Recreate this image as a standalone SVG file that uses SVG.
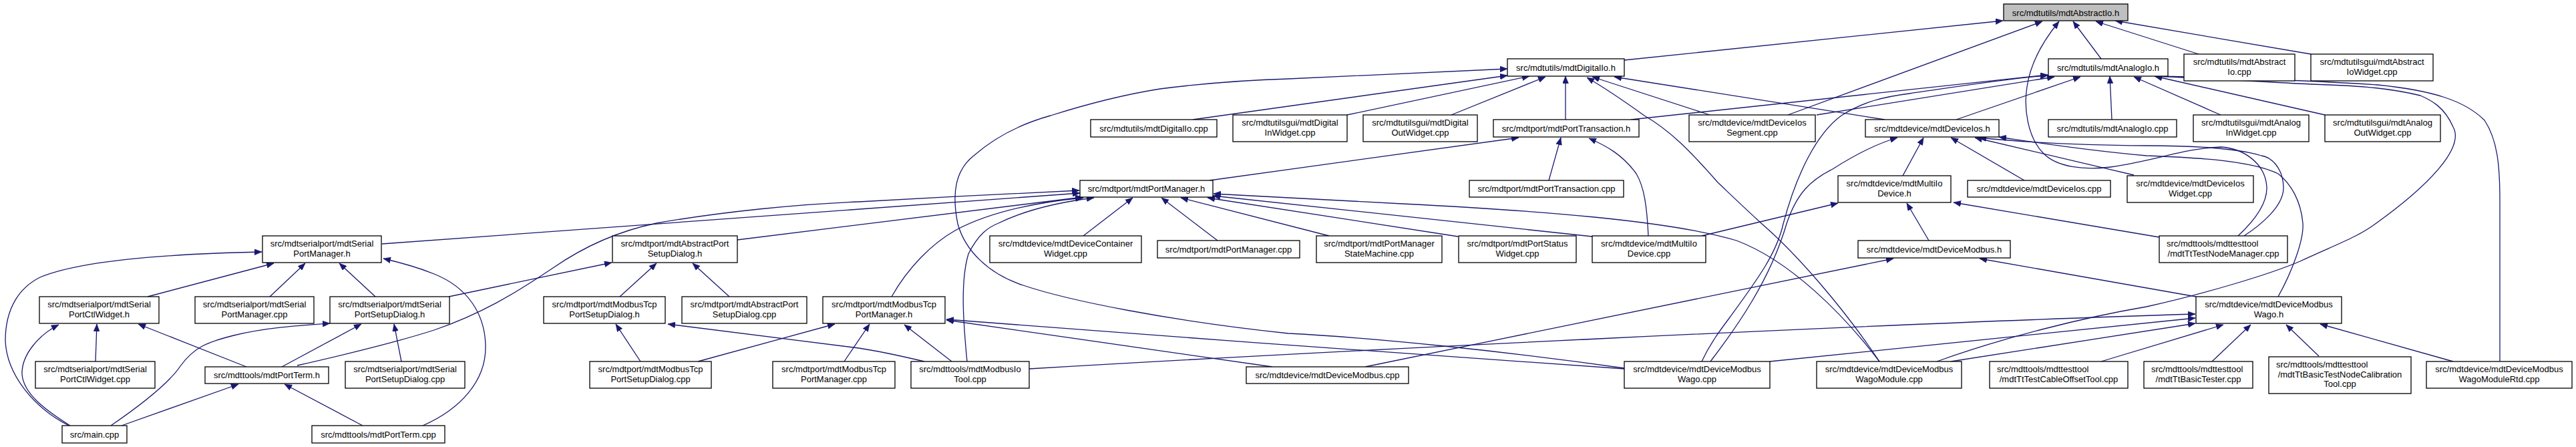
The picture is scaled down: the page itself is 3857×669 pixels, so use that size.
<svg xmlns="http://www.w3.org/2000/svg" width="3857" height="669" viewBox="0 0 3857 669">
<style>
.b{fill:#fff;stroke:#000;stroke-width:1.3}
.g{fill:#bfbfbf}
.t{font-family:"Liberation Sans",Arial,sans-serif;font-size:13px;fill:#000;text-anchor:middle}
.l{text-anchor:start}
.e path{fill:none;stroke:#191970;stroke-width:1.3;marker-end:url(#ah)}
</style>
<defs>
<marker id="ah" viewBox="0 0 11 9" refX="11" refY="4.5" markerWidth="11" markerHeight="9" markerUnits="userSpaceOnUse" orient="auto"><path d="M0,0 L11,4.5 L0,9 z" fill="#191970" stroke="#191970" stroke-width="0.5"/></marker>
</defs>
<rect x="0" y="0" width="3857" height="669" fill="#fff"/>
<g id="edges" class="e">
<path d="M2432,90 L2999,31"/>
<path d="M2677,172 L3058,32"/>
<path d="M3351,353 C3365,340 3395,310 3394,280 C3392,245 3360,222 3325,220 C3270,222 3230,240 3160,250 C3120,255 3080,250 3060,230 C3035,205 3030,160 3035,130 C3040,95 3060,60 3083,32"/>
<path d="M3146,88 L3104,32"/>
<path d="M3292,81 L3138,32"/>
<path d="M3460,81 L3167,31"/>
<path d="M1786,179 L2257,113"/>
<path d="M2432,551 C2250,525 2050,505 1929,499 C1750,480 1600,450 1532,427 C1480,410 1445,375 1434,335 C1425,290 1430,255 1458,233 C1490,205 1530,185 1573,173 C1630,155 1680,142 1737,133 C1800,125 1860,120 1929,118 C2050,112 2170,106 2257,103"/>
<path d="M2017,172 L2290,114"/>
<path d="M2173,172 L2314,115"/>
<path d="M2344,179 L2344,114"/>
<path d="M2814,541 C2760,460 2690,380 2638,335 C2600,300 2590,290 2572,273 C2530,225 2500,195 2462,173 C2430,150 2400,130 2376,116"/>
<path d="M2560,172 L2384,115"/>
<path d="M2822,179 L2417,115"/>
<path d="M2442,179 L3066,112"/>
<path d="M2548,541 C2560,515 2575,495 2590,475 C2630,420 2660,380 2670,335 C2690,260 2720,200 2757,173 C2790,152 2820,145 2859,140 C2930,130 3000,118 3066,113"/>
<path d="M2561,541 C2600,490 2650,420 2675,335 C2690,290 2710,270 2744,253 C2780,230 2810,215 2841,206"/>
<path d="M2720,172 L3076,115"/>
<path d="M2929,179 L3115,115"/>
<path d="M3162,179 L3159,114"/>
<path d="M3325,172 L3195,115"/>
<path d="M3481,172 L3226,114"/>
<path d="M2900,541 C3000,505 3120,475 3214,459 C3300,440 3400,410 3444,391 C3500,365 3530,355 3558,334 C3640,275 3690,220 3673,190 C3660,160 3640,150 3624,143 C3570,130 3520,128 3460,126 C3380,122 3300,117 3226,114"/>
<path d="M3743,541 L3743,300 C3743,250 3740,210 3720,180 C3690,150 3640,135 3560,127 C3450,120 3330,116 3226,114"/>
<path d="M1811,270 L2274,206"/>
<path d="M2319,270 L2337,206"/>
<path d="M2468,353 C2466,310 2462,280 2450,260 C2430,232 2405,218 2379,207"/>
<path d="M2849,263 L2880,206"/>
<path d="M3031,270 L2921,206"/>
<path d="M3195,262 L2957,206"/>
<path d="M3360,353 C3380,340 3420,310 3419,280 C3418,250 3400,235 3386,233 C3350,222 3290,218 3214,218 C3100,217 3020,212 2963,206"/>
<path d="M3411,444 C3430,410 3450,360 3448,334 C3445,300 3430,275 3411,260 C3370,240 3290,236 3214,233 C3120,225 3040,212 2993,205"/>
<path d="M2548,353 L2752,304"/>
<path d="M2888,360 L2855,304"/>
<path d="M3233,355 L2925,303"/>
<path d="M2044,549 L2835,387"/>
<path d="M3288,444 L2964,387"/>
<path d="M572,365 L1617,289"/>
<path d="M445,547 C520,530 600,510 650,494 C720,470 770,440 828,401 C880,365 930,345 983,334 C1080,317 1200,305 1286,302 C1400,296 1500,290 1616,285"/>
<path d="M1104,359 L1621,295"/>
<path d="M1335,444 C1360,400 1395,365 1430,345 C1480,318 1550,303 1622,296"/>
<path d="M1448,541 C1442,480 1438,420 1450,380 C1465,350 1480,340 1495,334 C1540,312 1590,302 1638,296"/>
<path d="M1622,353 L1696,296"/>
<path d="M1823,360 L1739,296"/>
<path d="M1990,353 L1768,296"/>
<path d="M2183,354 L1808,296"/>
<path d="M2384,354 L1816,293"/>
<path d="M2814,541 C2760,470 2680,390 2600,360 C2500,330 2300,315 2100,305 C1980,299 1880,293 1817,290"/>
<path d="M1264,541 L1302,485"/>
<path d="M1045,541 L1250,485"/>
<path d="M1425,541 L1354,486"/>
<path d="M1905,549 L1417,479"/>
<path d="M2432,552 C2200,537 1700,500 1417,478"/>
<path d="M959,541 L922,485"/>
<path d="M1384,541 C1350,533 1320,526 1286,521 L1000,485"/>
<path d="M928,444 L983,394"/>
<path d="M1092,444 L1037,394"/>
<path d="M672,444 L916,393"/>
<path d="M103,637 C50,610 10,560 8,510 C8,460 30,430 60,415 C120,390 250,380 392,377"/>
<path d="M221,444 L410,394"/>
<path d="M404,444 L457,394"/>
<path d="M562,444 L508,394"/>
<path d="M633,637 C690,612 727,570 727,520 C727,470 700,430 650,410 C625,400 600,393 574,387"/>
<path d="M105,637 C70,615 35,590 33,560 C32,530 60,500 88,486"/>
<path d="M143,541 L145,485"/>
<path d="M369,549 L207,485"/>
<path d="M166,637 C220,600 255,570 270,548 C290,520 310,512 350,502 C400,490 450,487 494,484"/>
<path d="M422,549 L541,485"/>
<path d="M601,541 L590,485"/>
<path d="M182,637 L357,575"/>
<path d="M543,637 L426,575"/>
<path d="M1541,552 C2000,525 2800,485 3287,470"/>
<path d="M2650,541 L3287,476"/>
<path d="M2921,541 L3287,484"/>
<path d="M3146,541 L3329,486"/>
<path d="M3312,541 L3370,486"/>
<path d="M3472,533 L3423,486"/>
<path d="M3673,541 L3474,485"/>
</g>
<g id="n_absio"><rect class="b g" x="3000" y="6" width="186" height="25"/><text class="t" x="3093" y="23.5">src/mdtutils/mdtAbstractIo.h</text></g>
<g id="n_digio_h"><rect class="b" x="2257" y="88" width="175" height="26"/><text class="t" x="2344.5" y="105.5">src/mdtutils/mdtDigitalIo.h</text></g>
<g id="n_anaio_h"><rect class="b" x="3067" y="88" width="179" height="26"/><text class="t" x="3156.5" y="105.5">src/mdtutils/mdtAnalogIo.h</text></g>
<g id="n_absio_cpp"><rect class="b" x="3270" y="81" width="166" height="40"/><text class="t" x="3353" y="97">src/mdtutils/mdtAbstract</text><text class="t" x="3353" y="112">Io.cpp</text></g>
<g id="n_absiow"><rect class="b" x="3460" y="81" width="183" height="40"/><text class="t" x="3551.5" y="97">src/mdtutilsgui/mdtAbstract</text><text class="t" x="3551.5" y="112">IoWidget.cpp</text></g>
<g id="n_digio_cpp"><rect class="b" x="1633" y="179" width="189" height="26"/><text class="t" x="1727.5" y="196.5">src/mdtutils/mdtDigitalIo.cpp</text></g>
<g id="n_diginw"><rect class="b" x="1846" y="172" width="171" height="40"/><text class="t" x="1931.5" y="188">src/mdtutilsgui/mdtDigital</text><text class="t" x="1931.5" y="203">InWidget.cpp</text></g>
<g id="n_digoutw"><rect class="b" x="2041" y="172" width="171" height="40"/><text class="t" x="2126.5" y="188">src/mdtutilsgui/mdtDigital</text><text class="t" x="2126.5" y="203">OutWidget.cpp</text></g>
<g id="n_ptrans_h"><rect class="b" x="2236" y="179" width="218" height="26"/><text class="t" x="2345" y="196.5">src/mdtport/mdtPortTransaction.h</text></g>
<g id="n_diosseg"><rect class="b" x="2529" y="172" width="189" height="40"/><text class="t" x="2623.5" y="188">src/mdtdevice/mdtDeviceIos</text><text class="t" x="2623.5" y="203">Segment.cpp</text></g>
<g id="n_dios_h"><rect class="b" x="2793" y="179" width="200" height="26"/><text class="t" x="2893" y="196.5">src/mdtdevice/mdtDeviceIos.h</text></g>
<g id="n_anaio_cpp"><rect class="b" x="3067" y="179" width="192" height="26"/><text class="t" x="3163" y="196.5">src/mdtutils/mdtAnalogIo.cpp</text></g>
<g id="n_anainw"><rect class="b" x="3284" y="172" width="173" height="40"/><text class="t" x="3370.5" y="188">src/mdtutilsgui/mdtAnalog</text><text class="t" x="3370.5" y="203">InWidget.cpp</text></g>
<g id="n_anaoutw"><rect class="b" x="3481" y="172" width="173" height="40"/><text class="t" x="3567.5" y="188">src/mdtutilsgui/mdtAnalog</text><text class="t" x="3567.5" y="203">OutWidget.cpp</text></g>
<g id="n_pm_h"><rect class="b" x="1617" y="270" width="199" height="25"/><text class="t" x="1716.5" y="287">src/mdtport/mdtPortManager.h</text></g>
<g id="n_ptrans_cpp"><rect class="b" x="2200" y="270" width="231" height="25"/><text class="t" x="2315.5" y="287">src/mdtport/mdtPortTransaction.cpp</text></g>
<g id="n_mio_h"><rect class="b" x="2752" y="263" width="169" height="40"/><text class="t" x="2836.5" y="279">src/mdtdevice/mdtMultiIo</text><text class="t" x="2836.5" y="294">Device.h</text></g>
<g id="n_dios_cpp"><rect class="b" x="2946" y="270" width="214" height="25"/><text class="t" x="3053" y="287">src/mdtdevice/mdtDeviceIos.cpp</text></g>
<g id="n_diosw"><rect class="b" x="3185" y="263" width="189" height="40"/><text class="t" x="3279.5" y="279">src/mdtdevice/mdtDeviceIos</text><text class="t" x="3279.5" y="294">Widget.cpp</text></g>
<g id="n_spm_h"><rect class="b" x="393" y="353" width="178" height="40"/><text class="t" x="482" y="369">src/mdtserialport/mdtSerial</text><text class="t" x="482" y="384">PortManager.h</text></g>
<g id="n_apsd_h"><rect class="b" x="917" y="353" width="187" height="40"/><text class="t" x="1010.5" y="369">src/mdtport/mdtAbstractPort</text><text class="t" x="1010.5" y="384">SetupDialog.h</text></g>
<g id="n_dcw"><rect class="b" x="1482" y="353" width="227" height="40"/><text class="t" x="1595.5" y="369">src/mdtdevice/mdtDeviceContainer</text><text class="t" x="1595.5" y="384">Widget.cpp</text></g>
<g id="n_pm_cpp"><rect class="b" x="1733" y="360" width="213" height="26"/><text class="t" x="1839.5" y="377.5">src/mdtport/mdtPortManager.cpp</text></g>
<g id="n_pmsm"><rect class="b" x="1971" y="353" width="188" height="40"/><text class="t" x="2065" y="369">src/mdtport/mdtPortManager</text><text class="t" x="2065" y="384">StateMachine.cpp</text></g>
<g id="n_psw"><rect class="b" x="2184" y="353" width="176" height="40"/><text class="t" x="2272" y="369">src/mdtport/mdtPortStatus</text><text class="t" x="2272" y="384">Widget.cpp</text></g>
<g id="n_mio_cpp"><rect class="b" x="2384" y="353" width="170" height="40"/><text class="t" x="2469" y="369">src/mdtdevice/mdtMultiIo</text><text class="t" x="2469" y="384">Device.cpp</text></g>
<g id="n_dmb_h"><rect class="b" x="2782" y="360" width="228" height="26"/><text class="t" x="2896" y="377.5">src/mdtdevice/mdtDeviceModbus.h</text></g>
<g id="n_ttnm"><rect class="b" x="3233" y="353" width="192" height="40"/><text class="t l" x="3244" y="369">src/mdttools/mdttesttool</text><text class="t" x="3329" y="384">/mdtTtTestNodeManager.cpp</text></g>
<g id="n_spcw_h"><rect class="b" x="59" y="444" width="179" height="40"/><text class="t" x="148.5" y="460">src/mdtserialport/mdtSerial</text><text class="t" x="148.5" y="475">PortCtlWidget.h</text></g>
<g id="n_spm_cpp"><rect class="b" x="292" y="444" width="178" height="40"/><text class="t" x="381" y="460">src/mdtserialport/mdtSerial</text><text class="t" x="381" y="475">PortManager.cpp</text></g>
<g id="n_spsd_h"><rect class="b" x="494" y="444" width="179" height="40"/><text class="t" x="583.5" y="460">src/mdtserialport/mdtSerial</text><text class="t" x="583.5" y="475">PortSetupDialog.h</text></g>
<g id="n_mtpsd_h"><rect class="b" x="814" y="444" width="182" height="40"/><text class="t" x="905" y="460">src/mdtport/mdtModbusTcp</text><text class="t" x="905" y="475">PortSetupDialog.h</text></g>
<g id="n_apsd_cpp"><rect class="b" x="1021" y="444" width="187" height="40"/><text class="t" x="1114.5" y="460">src/mdtport/mdtAbstractPort</text><text class="t" x="1114.5" y="475">SetupDialog.cpp</text></g>
<g id="n_mtpm_h"><rect class="b" x="1232" y="444" width="183" height="40"/><text class="t" x="1323.5" y="460">src/mdtport/mdtModbusTcp</text><text class="t" x="1323.5" y="475">PortManager.h</text></g>
<g id="n_dmbw_h"><rect class="b" x="3288" y="444" width="218" height="40"/><text class="t" x="3397" y="460">src/mdtdevice/mdtDeviceModbus</text><text class="t" x="3397" y="475">Wago.h</text></g>
<g id="n_spcw_cpp"><rect class="b" x="53" y="541" width="179" height="40"/><text class="t" x="142.5" y="557">src/mdtserialport/mdtSerial</text><text class="t" x="142.5" y="572">PortCtlWidget.cpp</text></g>
<g id="n_pterm_h"><rect class="b" x="307" y="549" width="185" height="25"/><text class="t" x="399.5" y="566">src/mdttools/mdtPortTerm.h</text></g>
<g id="n_spsd_cpp"><rect class="b" x="517" y="541" width="179" height="40"/><text class="t" x="606.5" y="557">src/mdtserialport/mdtSerial</text><text class="t" x="606.5" y="572">PortSetupDialog.cpp</text></g>
<g id="n_mtpsd_cpp"><rect class="b" x="883" y="541" width="182" height="40"/><text class="t" x="974" y="557">src/mdtport/mdtModbusTcp</text><text class="t" x="974" y="572">PortSetupDialog.cpp</text></g>
<g id="n_mtpm_cpp"><rect class="b" x="1157" y="541" width="183" height="40"/><text class="t" x="1248.5" y="557">src/mdtport/mdtModbusTcp</text><text class="t" x="1248.5" y="572">PortManager.cpp</text></g>
<g id="n_mbiotool"><rect class="b" x="1364" y="541" width="177" height="40"/><text class="t" x="1452.5" y="557">src/mdttools/mdtModbusIo</text><text class="t" x="1452.5" y="572">Tool.cpp</text></g>
<g id="n_dmb_cpp"><rect class="b" x="1866" y="549" width="243" height="25"/><text class="t" x="1987.5" y="566">src/mdtdevice/mdtDeviceModbus.cpp</text></g>
<g id="n_dmbw_cpp"><rect class="b" x="2432" y="541" width="218" height="40"/><text class="t" x="2541" y="557">src/mdtdevice/mdtDeviceModbus</text><text class="t" x="2541" y="572">Wago.cpp</text></g>
<g id="n_dmbwm_cpp"><rect class="b" x="2720" y="541" width="217" height="40"/><text class="t" x="2828.5" y="557">src/mdtdevice/mdtDeviceModbus</text><text class="t" x="2828.5" y="572">WagoModule.cpp</text></g>
<g id="n_ttcot"><rect class="b" x="2979" y="541" width="207" height="40"/><text class="t l" x="2990" y="557">src/mdttools/mdttesttool</text><text class="t" x="3082.5" y="572">/mdtTtTestCableOffsetTool.cpp</text></g>
<g id="n_ttbt"><rect class="b" x="3210" y="541" width="163" height="40"/><text class="t l" x="3221" y="557">src/mdttools/mdttesttool</text><text class="t" x="3291.5" y="572">/mdtTtBasicTester.cpp</text></g>
<g id="n_ttcal"><rect class="b" x="3397" y="534" width="213" height="55"/><text class="t l" x="3408" y="550">src/mdttools/mdttesttool</text><text class="t" x="3503.5" y="565">/mdtTtBasicTestNodeCalibration</text><text class="t" x="3503.5" y="579">Tool.cpp</text></g>
<g id="n_dmbwr_cpp"><rect class="b" x="3633" y="541" width="218" height="40"/><text class="t" x="3742" y="557">src/mdtdevice/mdtDeviceModbus</text><text class="t" x="3742" y="572">WagoModuleRtd.cpp</text></g>
<g id="n_main"><rect class="b" x="93" y="637" width="97" height="26"/><text class="t" x="141.5" y="654.5">src/main.cpp</text></g>
<g id="n_pterm_cpp"><rect class="b" x="467" y="637" width="199" height="26"/><text class="t" x="566.5" y="654.5">src/mdttools/mdtPortTerm.cpp</text></g>
</svg>
